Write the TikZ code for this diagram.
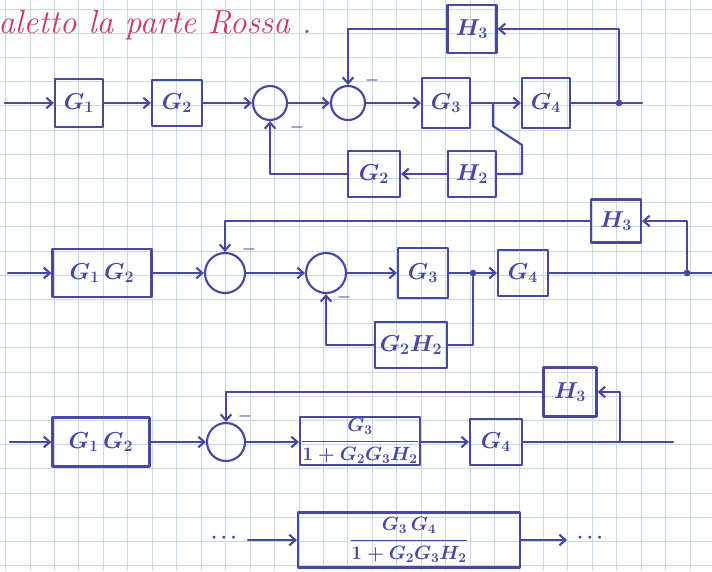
\documentclass[tikz,border=0pt]{standalone}
\usetikzlibrary{arrows.meta}
\definecolor{inkc}{RGB}{72,72,160}
\definecolor{redc}{RGB}{200,60,100}
\definecolor{gridc}{RGB}{196,220,230}
\begin{document}
\begin{tikzpicture}[x=0.75pt,y=-0.75pt]
\tikzset{
 ink/.style={draw=inkc, line width=1.6pt, line cap=round, line join=round},
 blk/.style 2 args={ink, rectangle, inner sep=0pt, minimum width=#1*0.75pt, minimum height=#2*0.75pt, text=inkc, font=\LARGE\boldmath},
 sj/.style={ink, circle, inner sep=0pt, minimum size=#1*0.75pt},
 arr/.style={ink, -{Straight Barb[length=4.5pt,width=8pt]}},
 wire/.style={ink},
 dotn/.style={circle, fill=inkc, inner sep=0pt, minimum size=5pt},
 minus/.style={text=inkc, font=\large\boldmath, inner sep=0pt},
 gridl/.style={draw=gridc, line width=0.6pt}
}
\useasboundingbox (0,0) rectangle (712,571);
\fill[white] (0,0) rectangle (712,571);
% grid paper
\foreach \i in {0,...,29} \draw[gridl] ({5.5+24.45*\i},0) -- ({5.5+24.45*\i},571);
\foreach \j in {0,...,23} \draw[gridl] (0,{9+24.2*\j}) -- (712,{9+24.2*\j});

% title
\node[anchor=base west, text=redc, font=\fontsize{25}{30}\selectfont\itshape, inner sep=0pt] (title) at (-2,33) {aletto la parte Rossa .};

% ---------- row 1 ----------
\coordinate (in1) at (5,103);
\node[blk={48}{48}] (G1) at (79,103) {$G_1$};
\node[blk={50}{46}] (G2) at (177,103) {$G_2$};
\node[sj=34] (S1) at (270,103) {};
\node[sj=34] (S2) at (348,103) {};
\node[blk={48}{50}] (G3) at (446,103) {$G_3$};
\node[blk={48}{50}] (G4) at (546,103) {$G_4$};
\node[blk={49}{48}] (H3) at (472,29) {$H_3$};
\node[blk={52}{46}] (G2f) at (374,174) {$G_2$};
\node[blk={48}{46}] (H2) at (472,174) {$H_2$};
\coordinate (B1) at (493,103);
\node[dotn] (P1) at (619,103) {};
\coordinate (out1) at (642,103);
\node[minus] (m1) at (297,127) {$-$};
\node[minus] (m2) at (372,80) {$-$};

\draw[arr] (in1) -- (G1);
\draw[arr] (G1) -- (G2);
\draw[arr] (G2) -- (S1);
\draw[arr] (S1) -- (S2);
\draw[arr] (S2) -- (G3);
\draw[arr] (G3) -- (G4);
\draw[wire] (G4) -- (out1);
\draw[arr] (P1) |- (H3.east);
\draw[arr] (H3.west) -| (S2.north);
\draw[wire] (B1) -- ++(0,23) -- ++(29,19) |- (H2.east);
\draw[arr] (H2) -- (G2f);
\draw[arr] (G2f.west) -| (S1.south);

% ---------- row 2 ----------
\coordinate (in2) at (8,273);
\node[blk={99}{48}] (G12b) at (102,273) {$G_1\,G_2$};
\node[sj=40] (SA) at (225,273) {};
\node[sj=40] (SB) at (326,273) {};
\node[blk={50}{50}] (G3b) at (423,273) {$G_3$};
\node[blk={50}{46}] (G4b) at (523,273) {$G_4$};
\node[blk={50}{43}] (H3b) at (616,221) {$H_3$};
\node[blk={72}{46}] (G2H2) at (411,345) {$G_2H_2$};
\node[dotn] (Bb) at (473,273) {};
\node[dotn] (P2) at (687,273) {};
\coordinate (out2) at (712,273);
\node[minus] (mA) at (249,249) {$-$};
\node[minus] (mB) at (344,297) {$-$};

\draw[arr] (in2) -- (G12b);
\draw[arr] (G12b) -- (SA);
\draw[arr] (SA) -- (SB);
\draw[arr] (SB) -- (G3b);
\draw[arr] (G3b) -- (G4b);
\draw[wire] (G4b) -- (out2);
\draw[arr] (P2) |- (H3b.east);
\draw[arr] (H3b.west) -| (SA.north);
\draw[wire] (Bb) |- (G2H2.east);
\draw[arr] (G2H2.west) -| (SB.south);

% ---------- row 3 ----------
\coordinate (in3) at (10,442);
\node[blk={97}{49}] (G12c) at (101,442) {$G_1\,G_2$};
\node[sj=38] (SC) at (226,442) {};
\node[blk={120}{48}, font=\Large\boldmath] (F1) at (360,441) {$\displaystyle\frac{G_3}{1+G_2G_3H_2}$};
\node[blk={52}{46}] (G4c) at (496,442) {$G_4$};
\node[blk={53}{49}] (H3c) at (570,392) {$H_3$};
\coordinate (P3) at (620,442);
\coordinate (out3) at (673,442);
\node[minus] (mC) at (245,416) {$-$};

\draw[arr] (in3) -- (G12c);
\draw[arr] (G12c) -- (SC);
\draw[arr] (SC) -- (SC -| F1.west);
\draw[arr] (F1.east |- G4c) -- (G4c);
\draw[wire] (G4c) -- (out3);
\draw[arr] (P3) |- (H3c.east);
\draw[arr] (H3c.west) -| (SC.north);

% ---------- row 4 ----------
\node[text=inkc, font=\Large\boldmath] (d1) at (224,538) {$\cdots$};
\coordinate (s4) at (248,540);
\node[blk={222}{55}, font=\Large\boldmath] (F2) at (409,540) {$\displaystyle\frac{G_3\,G_4}{1+G_2G_3H_2}$};
\coordinate (o4) at (567,540);
\node[text=inkc, font=\Large\boldmath] (d2) at (590,538) {$\cdots$};
\draw[arr] (s4) -- (F2);
\draw[arr] (F2) -- (o4);
\end{tikzpicture}
\end{document}
